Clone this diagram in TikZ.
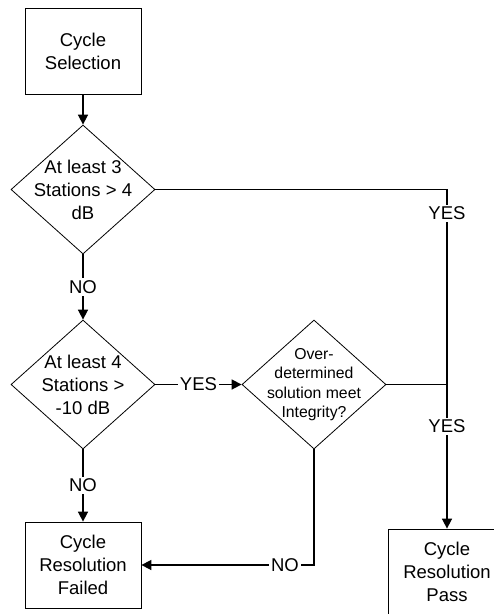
\documentclass[tikz,border=0pt]{standalone}
\usepackage{fontspec}
\setmainfont{Liberation Sans}
\usetikzlibrary{shapes.geometric,arrows.meta}
\begin{document}
\begin{tikzpicture}[x=1pt,y=-1pt,
  box/.style={draw,line width=0.8pt,minimum width=116pt,minimum height=86pt,
    inner sep=0pt,align=center,font=\fontsize{18.5}{23}\selectfont},
  dia/.style={draw,diamond,line width=0.8pt,minimum width=144pt,
    minimum height=129pt,inner sep=0pt},
  diatext/.style={align=center,inner sep=0pt,font=\fontsize{18.5}{23}\selectfont},
  smalltext/.style={align=center,inner sep=0pt,font=\fontsize{15.8}{19.5}\selectfont},
  conn/.style={line width=1.6pt},
  arr/.style={conn,-{Triangle[length=10pt,width=10pt]}},
  lbl/.style={fill=white,inner sep=2pt,font=\fontsize{18.5}{22}\selectfont}]

\path[use as bounding box,clip] (0,0) rectangle (494,614);

% process boxes
\node[box] (sel)  at (83,51)   {Cycle\\Selection};
\node[box] (fail) at (83,565)  {Cycle\\Resolution\\Failed};
\node[box,minimum width=118pt] (pass) at (447,572) {Cycle\\Resolution\\Pass};

% decisions
\node[dia] (d1) at (83,189.5) {};
\node[diatext] (d1t) at (d1.center) {At least 3\\Stations > 4\\dB};
\node[dia] (d2) at (83,384.5) {};
\node[diatext] (d2t) at (d2.center) {At least 4\\Stations >\\-10 dB};
\node[dia] (d3) at (314,384.5) {};
\node[smalltext] (d3t) at (d3.center) {Over-\\determined\\solution meet\\Integrity?};

\coordinate (j) at (pass.north |- d3.east);

% connectors
\draw[arr] (sel.south) -- (d1.north);
\draw[arr] (d1.south) -- node[lbl] (no1) {NO} (d2.north);
\draw[arr] (d2.south) -- node[lbl] (no2) {NO} (fail.north);
\draw[arr] (d2.east) -- node[lbl] (yes2) {YES} (d3.west);
\draw[conn] (d1.east) -| node[lbl,pos=0.561] (yes1) {YES} (j);
\draw[conn] (d3.east) -- (j);
\draw[arr] (j) -- node[lbl,pos=0.29] (yes3) {YES} (pass.north);
\draw[arr] (d3.south) |- node[lbl,pos=0.584] (no3) {NO} (fail.east);

\end{tikzpicture}
\end{document}
